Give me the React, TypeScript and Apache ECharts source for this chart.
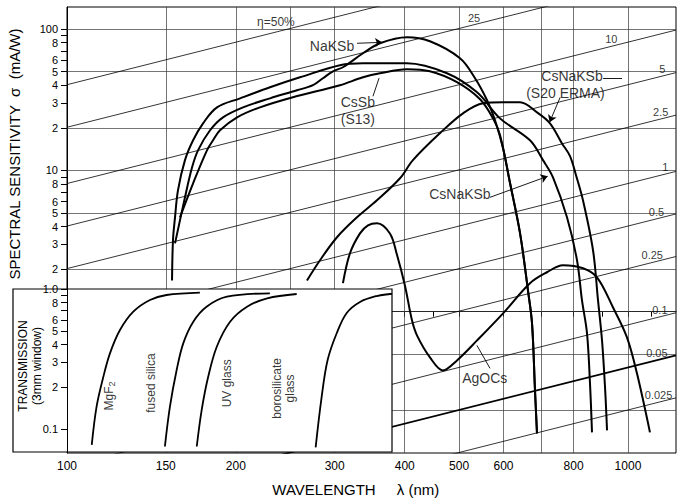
import React, { useEffect, useRef } from "react";
import * as echarts from "echarts";

const FONT = '"Liberation Sans", Arial, Helvetica, sans-serif';
const lg = (v: number) => Math.log10(v);

// ---- axis extents (wavelength nm, sensitivity mA/W, transmission) ----
const WL_MIN = 100;
const WL_MAX = 1218;
const SENS_MIN = 0.1;
const SENS_MAX = 143;
const INSET_WL_MAX = 380;
const TRANS_MIN = 0.0685;
const TRANS_MAX = 1.0;

// ---- ticks ----
const xTickValues = [100, 150, 200, 250, 300, 350, 400, 450, 500, 600, 700, 800, 900, 1000, 1100];
const xLabelValues = [100, 150, 200, 300, 400, 500, 600, 800, 1000];
const xGridValues = [150, 200, 250, 300, 400, 500, 600, 700, 800, 1000];
const yTickValues = [100, 90, 80, 70, 60, 50, 40, 30, 20, 10, 9, 8, 7, 6, 5, 4, 3, 2];
const yLabelValues = [100, 80, 60, 50, 40, 30, 20, 10, 8, 6, 5, 4, 3, 2];
const yLabelTexts = ["100", "8", "6", "5", "4", "3", "2", "10", "8", "6", "5", "4", "3", "2"];
const yGridValues = [100, 50, 20, 10, 5, 2, 1, 0.5, 0.2];
const tTickValues = [1, 0.9, 0.8, 0.7, 0.6, 0.5, 0.4, 0.3, 0.2, 0.1];
const tLabelValues = [1, 0.8, 0.6, 0.5, 0.4, 0.3, 0.2, 0.1];
const tLabelTexts = ["1.0", "8", "6", "5", "4", "3", "2", "0.1"];

// ---- quantum efficiency lines (percent) ----
const qeEtas = [50, 25, 10, 5, 2.5, 1, 0.5, 0.25, 0.1, 0.05, 0.025];
const qeLabelTexts = ["η=50%", "25", "10", "5", "2.5", "1", "0.5", "0.25", "0.1", "0.05", "0.025"];
const qeLabelWl = [235.7, 531.8, 934, 1151, 1144, 1166, 1124, 1105, 1140, 1126, 1134];

// ---- photocathode curves [wavelength nm, sensitivity mA/W] ----
const csNaKSb: number[][] = [
  [153.9, 1.66], [154.5, 3.2], [155.8, 4.65], [157.7, 7.22], [162.3, 11.8], [167.8, 16.3],
  [174.8, 21.5], [185.1, 27.9], [203.5, 32.3], [230.1, 38.7], [260.2, 45.5], [306.6, 55.4],
  [337, 57.2], [403.6, 57.2], [475.7, 48.6], [538.3, 35.6], [591.5, 23.3], [668.9, 16.3],
  [705.5, 11.8], [735.1, 8.92], [778.6, 4.65], [811.3, 2.31], [828.1, 1.2], [845.3, 0.702],
  [855.7, 0.311], [862.8, 0.14],
];
const naKSb: number[][] = [
  [155.8, 3.04], [162.3, 6.44], [167.1, 10.5], [171.3, 13.9], [179.9, 19.2], [189.7, 23.7],
  [206, 27.9], [230.1, 32.3], [257, 36.8], [274.5, 40], [285.9, 44.8], [298, 50.2],
  [310.4, 53.6], [337, 67.3], [361.3, 79.2], [403.6, 87.4], [443.6, 81.8], [501.9, 62],
  [533.8, 44.8], [560.8, 31.3], [579.5, 22.6], [598.9, 14.3], [616.4, 8.09], [642.2, 3.58],
  [663.4, 1.41], [674.5, 0.826], [682.8, 0.277], [688.4, 0.1376],
];
const csSb: number[][] = [
  [159, 4.65], [167.8, 8.09], [177.7, 13.9], [182.1, 16.3], [187.4, 19.2], [201, 23.7],
  [220.8, 27.9], [252.8, 32.9], [306.6, 40], [337, 45.5], [361.3, 48.6], [403.6, 51.9],
  [443.6, 50.2], [495.7, 42], [544.9, 31.8], [574.7, 23.3], [591.5, 17.7], [616.4, 8.09],
  [642.2, 3.58], [663.4, 1.41], [674.5, 0.826], [682.8, 0.277], [688.4, 0.1376],
];
const csNaKSbErma: number[][] = [
  [267.8, 1.66], [282.5, 2.31], [302.9, 3.36], [328.8, 4.65], [356.9, 6.13], [392.3, 8.78],
  [413.7, 11.8], [462.2, 18.3], [508.1, 25.3], [551.7, 29.8], [598.9, 30.3], [642.2, 30.3],
  [688.4, 25.7], [726.1, 21.5], [762.8, 15.5], [788.3, 12.6], [808, 9.22], [831.5, 6.13],
  [866.4, 2.72], [884.4, 1.2], [899, 0.626], [910.2, 0.291], [917.7, 0.1445],
];
const agOCs: number[][] = [
  [310.4, 1.59], [319.5, 2.59], [332.9, 3.58], [344, 4.08], [356.9, 4.22], [376.4, 3.57],
  [387, 2.57], [400.3, 1.53], [412.1, 0.868], [420.6, 0.68], [443.6, 0.475], [467.9, 0.384],
  [495.7, 0.452], [538.3, 0.626], [598.9, 0.973], [668.9, 1.59], [717.2, 1.9], [765.9, 2.13],
  [831.5, 2.03], [880.7, 1.75], [940.6, 1.07], [995.9, 0.658], [1037.6, 0.366], [1094.5, 0.14],
];
const mainCurves = [csNaKSb, naKSb, csSb, csNaKSbErma, agOCs];

// ---- window transmission curves [wavelength nm, transmission] ----
const mgF2: number[][] = [
  [110.7, 0.077], [112.9, 0.144], [116.1, 0.236], [119.3, 0.347], [124.3, 0.509],
  [131.3, 0.689], [140.6, 0.835], [150.5, 0.906], [172.6, 0.941],
];
const fusedSilica: number[][] = [
  [149.5, 0.075], [152.6, 0.144], [156.9, 0.264], [161.2, 0.409], [168, 0.584],
  [177.4, 0.747], [192.9, 0.881], [230.1, 0.932],
];
const uvGlass: number[][] = [
  [170.4, 0.075], [173.9, 0.137], [178.6, 0.236], [185, 0.387], [195.4, 0.584],
  [209.5, 0.747], [227.6, 0.858], [256.9, 0.921],
];
const borosilicate: number[][] = [
  [277.7, 0.074], [284.6, 0.169], [291.7, 0.311], [302.9, 0.485], [315.5, 0.674],
  [333.2, 0.808], [356.8, 0.891], [376.8, 0.921], [380, 0.923],
];
const insetCurves = [mgF2, fusedSilica, uvGlass, borosilicate];
const insetLabelTexts = ["MgF2", "fused silica", "UV glass", "borosilicate\nglass"];
const insetLabelWl = [118.8, 141.2, 192.9, 243.6];
const insetLabelT = [0.172, 0.213, 0.212, 0.195];

// ---- curve annotations ----
const annoTexts = ["NaKSb", "CsSb\n(S13)", "CsNaKSb", "(S20 ERMA)", "CsNaKSb", "AgOCs"];
const annoWl = [296.8, 330, 794.8, 773.7, 501.7, 555.6];
const annoSens = [75.5, 26.6, 46.3, 35.1, 6.76, 0.337];
// leader lines: [wl1, s1, wl2, s2, arrow(1/0)]
const leaders: number[][] = [
  [328.8, 79.2, 364.5, 80.4, 1],
  [351.1, 33.4, 360, 44.9, 0],
  [903, 44.8, 976, 44.8, 0],
  [757, 32.8, 725, 21.9, 1],
  [567.6, 6.44, 719.2, 9.07, 1],
  [567.6, 0.397, 538, 0.577, 0],
];

const fmt = (vals: number[], texts: string[]) => (v: number) => {
  const i = vals.findIndex((t) => Math.abs(lg(t) - v) < 1e-6);
  return i >= 0 ? texts[i] : "";
};

function buildOption() {
  const gridLineData = [
    ...xGridValues.map((v) => [{ coord: [lg(v), lg(SENS_MIN)] }, { coord: [lg(v), lg(SENS_MAX)] }]),
    ...yGridValues.map((v) => [{ coord: [lg(WL_MIN), lg(v)] }, { coord: [lg(WL_MAX), lg(v)] }]),
  ];

  const qeSeries = qeEtas.map((eta, i) => ({
    type: "line",
    xAxisIndex: 0,
    yAxisIndex: 0,
    silent: true,
    symbol: "none",
    z: 2,
    lineStyle: { color: "#000", width: eta === 0.05 ? 1.7 : 0.8 },
    data: [WL_MIN, WL_MAX].map((w) => [lg(w), lg((eta * w) / 124)]),
    ...(i === 0
      ? {
          markLine: {
            z: 1,
            silent: true,
            symbol: ["none", "none"],
            label: { show: false },
            lineStyle: { color: "#3a3a3a", width: 0.7, type: "solid" },
            data: gridLineData,
          },
        }
      : {}),
  }));

  const qeLabelSeries = {
    type: "scatter",
    xAxisIndex: 0,
    yAxisIndex: 0,
    silent: true,
    symbolSize: 1,
    z: 4,
    itemStyle: { color: "rgba(0,0,0,0)" },
    label: { show: true, position: "inside", formatter: "{b}", color: "#000", fontSize: 11, fontFamily: FONT, offset: [0, -7] },
    data: qeEtas.map((eta, i) => ({
      name: qeLabelTexts[i],
      value: [lg(qeLabelWl[i]), lg((eta * qeLabelWl[i]) / 124)],
      ...(i === 0 ? { label: { fontSize: 12, offset: [0, -10] } } : {}),
    })),
  };

  const curveSeries = mainCurves.map((c) => ({
    type: "line",
    xAxisIndex: 0,
    yAxisIndex: 0,
    silent: true,
    symbol: "none",
    smooth: 0.35,
    z: 3,
    lineStyle: { color: "#000", width: 2 },
    data: c.map(([w, s]) => [lg(w), lg(s)]),
  }));

  const annoSeries = {
    type: "scatter",
    xAxisIndex: 0,
    yAxisIndex: 0,
    silent: true,
    symbolSize: 1,
    z: 4,
    itemStyle: { color: "rgba(0,0,0,0)" },
    label: { show: true, position: "inside", formatter: "{b}", color: "#000", fontSize: 14, lineHeight: 17, fontFamily: FONT },
    data: annoTexts.map((t, i) => ({ name: t, value: [lg(annoWl[i]), lg(annoSens[i])] })),
    markLine: {
      z: 4,
      silent: true,
      symbol: ["none", "none"],
      symbolSize: 7,
      label: { show: false },
      lineStyle: { color: "#000", width: 0.9, type: "solid" },
      data: leaders.map(([w1, s1, w2, s2, a]) => [
        { coord: [lg(w1), lg(s1)], symbol: "none" },
        { coord: [lg(w2), lg(s2)], symbol: a ? "arrow" : "none", symbolSize: 7 },
      ]),
    },
  };

  const insetSeries = insetCurves.map((c) => ({
    type: "line",
    xAxisIndex: 1,
    yAxisIndex: 1,
    silent: true,
    symbol: "none",
    smooth: 0.35,
    z: 10,
    lineStyle: { color: "#000", width: 1.8 },
    data: c.map(([w, t]) => [lg(w), lg(t)]),
  }));

  const insetLabelSeries = {
    type: "scatter",
    xAxisIndex: 1,
    yAxisIndex: 1,
    silent: true,
    symbolSize: 1,
    z: 11,
    itemStyle: { color: "rgba(0,0,0,0)" },
    label: {
      show: true,
      position: "inside",
      rotate: 90,
      color: "#000",
      fontSize: 12,
      lineHeight: 13,
      fontFamily: FONT,
      formatter: (p: any) => (p.name === "MgF2" ? "MgF{s|2}" : p.name),
      rich: { s: { fontSize: 9, fontFamily: FONT, color: "#000", padding: [7, 0, 0, 0] } },
    },
    data: insetLabelTexts.map((t, i) => ({ name: t, value: [lg(insetLabelWl[i]), lg(insetLabelT[i])] })),
  };

  const xAxisText = { color: "#000", fontSize: 12, lineHeight: 10, fontFamily: FONT };
  const yAxisText = { color: "#000", fontSize: 11, lineHeight: 9, fontFamily: FONT };

  return {
    animation: false,
    backgroundColor: "#fff",
    grid: [
      { left: 67, top: 7, width: 609, height: 446, show: true, borderColor: "#000", borderWidth: 1, backgroundColor: "transparent" },
      { left: 67, top: 289, width: 325, height: 163, show: false },
    ],
    xAxis: [
      {
        type: "value",
        gridIndex: 0,
        min: lg(WL_MIN),
        max: lg(WL_MAX),
        axisLine: { show: true, lineStyle: { color: "#000", width: 1 } },
        axisTick: { show: true, inside: false, length: 5, customValues: xTickValues.map(lg), lineStyle: { color: "#000" } },
        axisLabel: { show: true, margin: 8, customValues: xLabelValues.map(lg), formatter: fmt(xLabelValues, xLabelValues.map(String)), ...xAxisText },
        splitLine: { show: false },
      },
      {
        type: "value",
        gridIndex: 1,
        min: lg(WL_MIN),
        max: lg(INSET_WL_MAX),
        show: false,
        splitLine: { show: false },
      },
    ],
    yAxis: [
      {
        type: "value",
        gridIndex: 0,
        min: lg(SENS_MIN),
        max: lg(SENS_MAX),
        axisLine: { show: true, lineStyle: { color: "#000", width: 1 } },
        axisTick: { show: true, inside: false, length: 6, customValues: yTickValues.map(lg), lineStyle: { color: "#000" } },
        axisLabel: { show: true, margin: 9, customValues: yLabelValues.map(lg), formatter: fmt(yLabelValues, yLabelTexts), ...yAxisText },
        splitLine: { show: false },
      },
      {
        type: "value",
        gridIndex: 1,
        z: 10,
        min: lg(TRANS_MIN),
        max: lg(TRANS_MAX),
        axisLine: { show: true, lineStyle: { color: "#000", width: 1 } },
        axisTick: { show: true, inside: false, length: 6, customValues: tTickValues.map(lg), lineStyle: { color: "#000" } },
        axisLabel: { show: true, margin: 9, customValues: tLabelValues.map(lg), formatter: fmt(tLabelValues, tLabelTexts), ...yAxisText },
        splitLine: { show: false },
      },
    ],
    graphic: [
      {
        type: "rect",
        z: 6,
        silent: true,
        shape: { x: 13, y: 289, width: 379, height: 163 },
        style: { fill: "#fff", stroke: "#000", lineWidth: 1.2 },
      },
      {
        type: "text",
        z: 11,
        x: 30,
        y: 366,
        rotation: Math.PI / 2,
        style: {
          text: "TRANSMISSION\n(3mm window)",
          fontSize: 12,
          lineHeight: 14,
          fontFamily: FONT,
          fill: "#000",
          align: "center",
          verticalAlign: "middle",
          textAlign: "center",
          textVerticalAlign: "middle",
        },
      },
      {
        type: "text",
        x: 14,
        y: 154,
        rotation: Math.PI / 2,
        style: {
          text: "SPECTRAL SENSITIVITY  σ  (mA/W)",
          fontSize: 15,
          fontFamily: FONT,
          fill: "#000",
          align: "center",
          verticalAlign: "middle",
          textAlign: "center",
          textVerticalAlign: "middle",
        },
      },
      {
        type: "text",
        x: 324,
        y: 489,
        style: { text: "WAVELENGTH", fontSize: 15, fontFamily: FONT, fill: "#000", align: "center", verticalAlign: "middle", textAlign: "center", textVerticalAlign: "middle" },
      },
      {
        type: "text",
        x: 418,
        y: 489,
        style: { text: "λ (nm)", fontSize: 15, fontFamily: FONT, fill: "#000", align: "center", verticalAlign: "middle", textAlign: "center", textVerticalAlign: "middle" },
      },
    ],
    series: [...qeSeries, qeLabelSeries, ...curveSeries, annoSeries, ...insetSeries, insetLabelSeries],
  };
}

export default function App() {
  const ref = useRef<HTMLDivElement>(null);
  useEffect(() => {
    if (!ref.current) return;
    const chart = echarts.init(ref.current, null, { renderer: "svg" });
    chart.setOption(buildOption() as any);
    return () => chart.dispose();
  }, []);
  return (
    <div
      ref={ref}
      style={{ position: "absolute", left: 0, top: 0, width: 677, height: 503, background: "#fff" }}
    />
  );
}
